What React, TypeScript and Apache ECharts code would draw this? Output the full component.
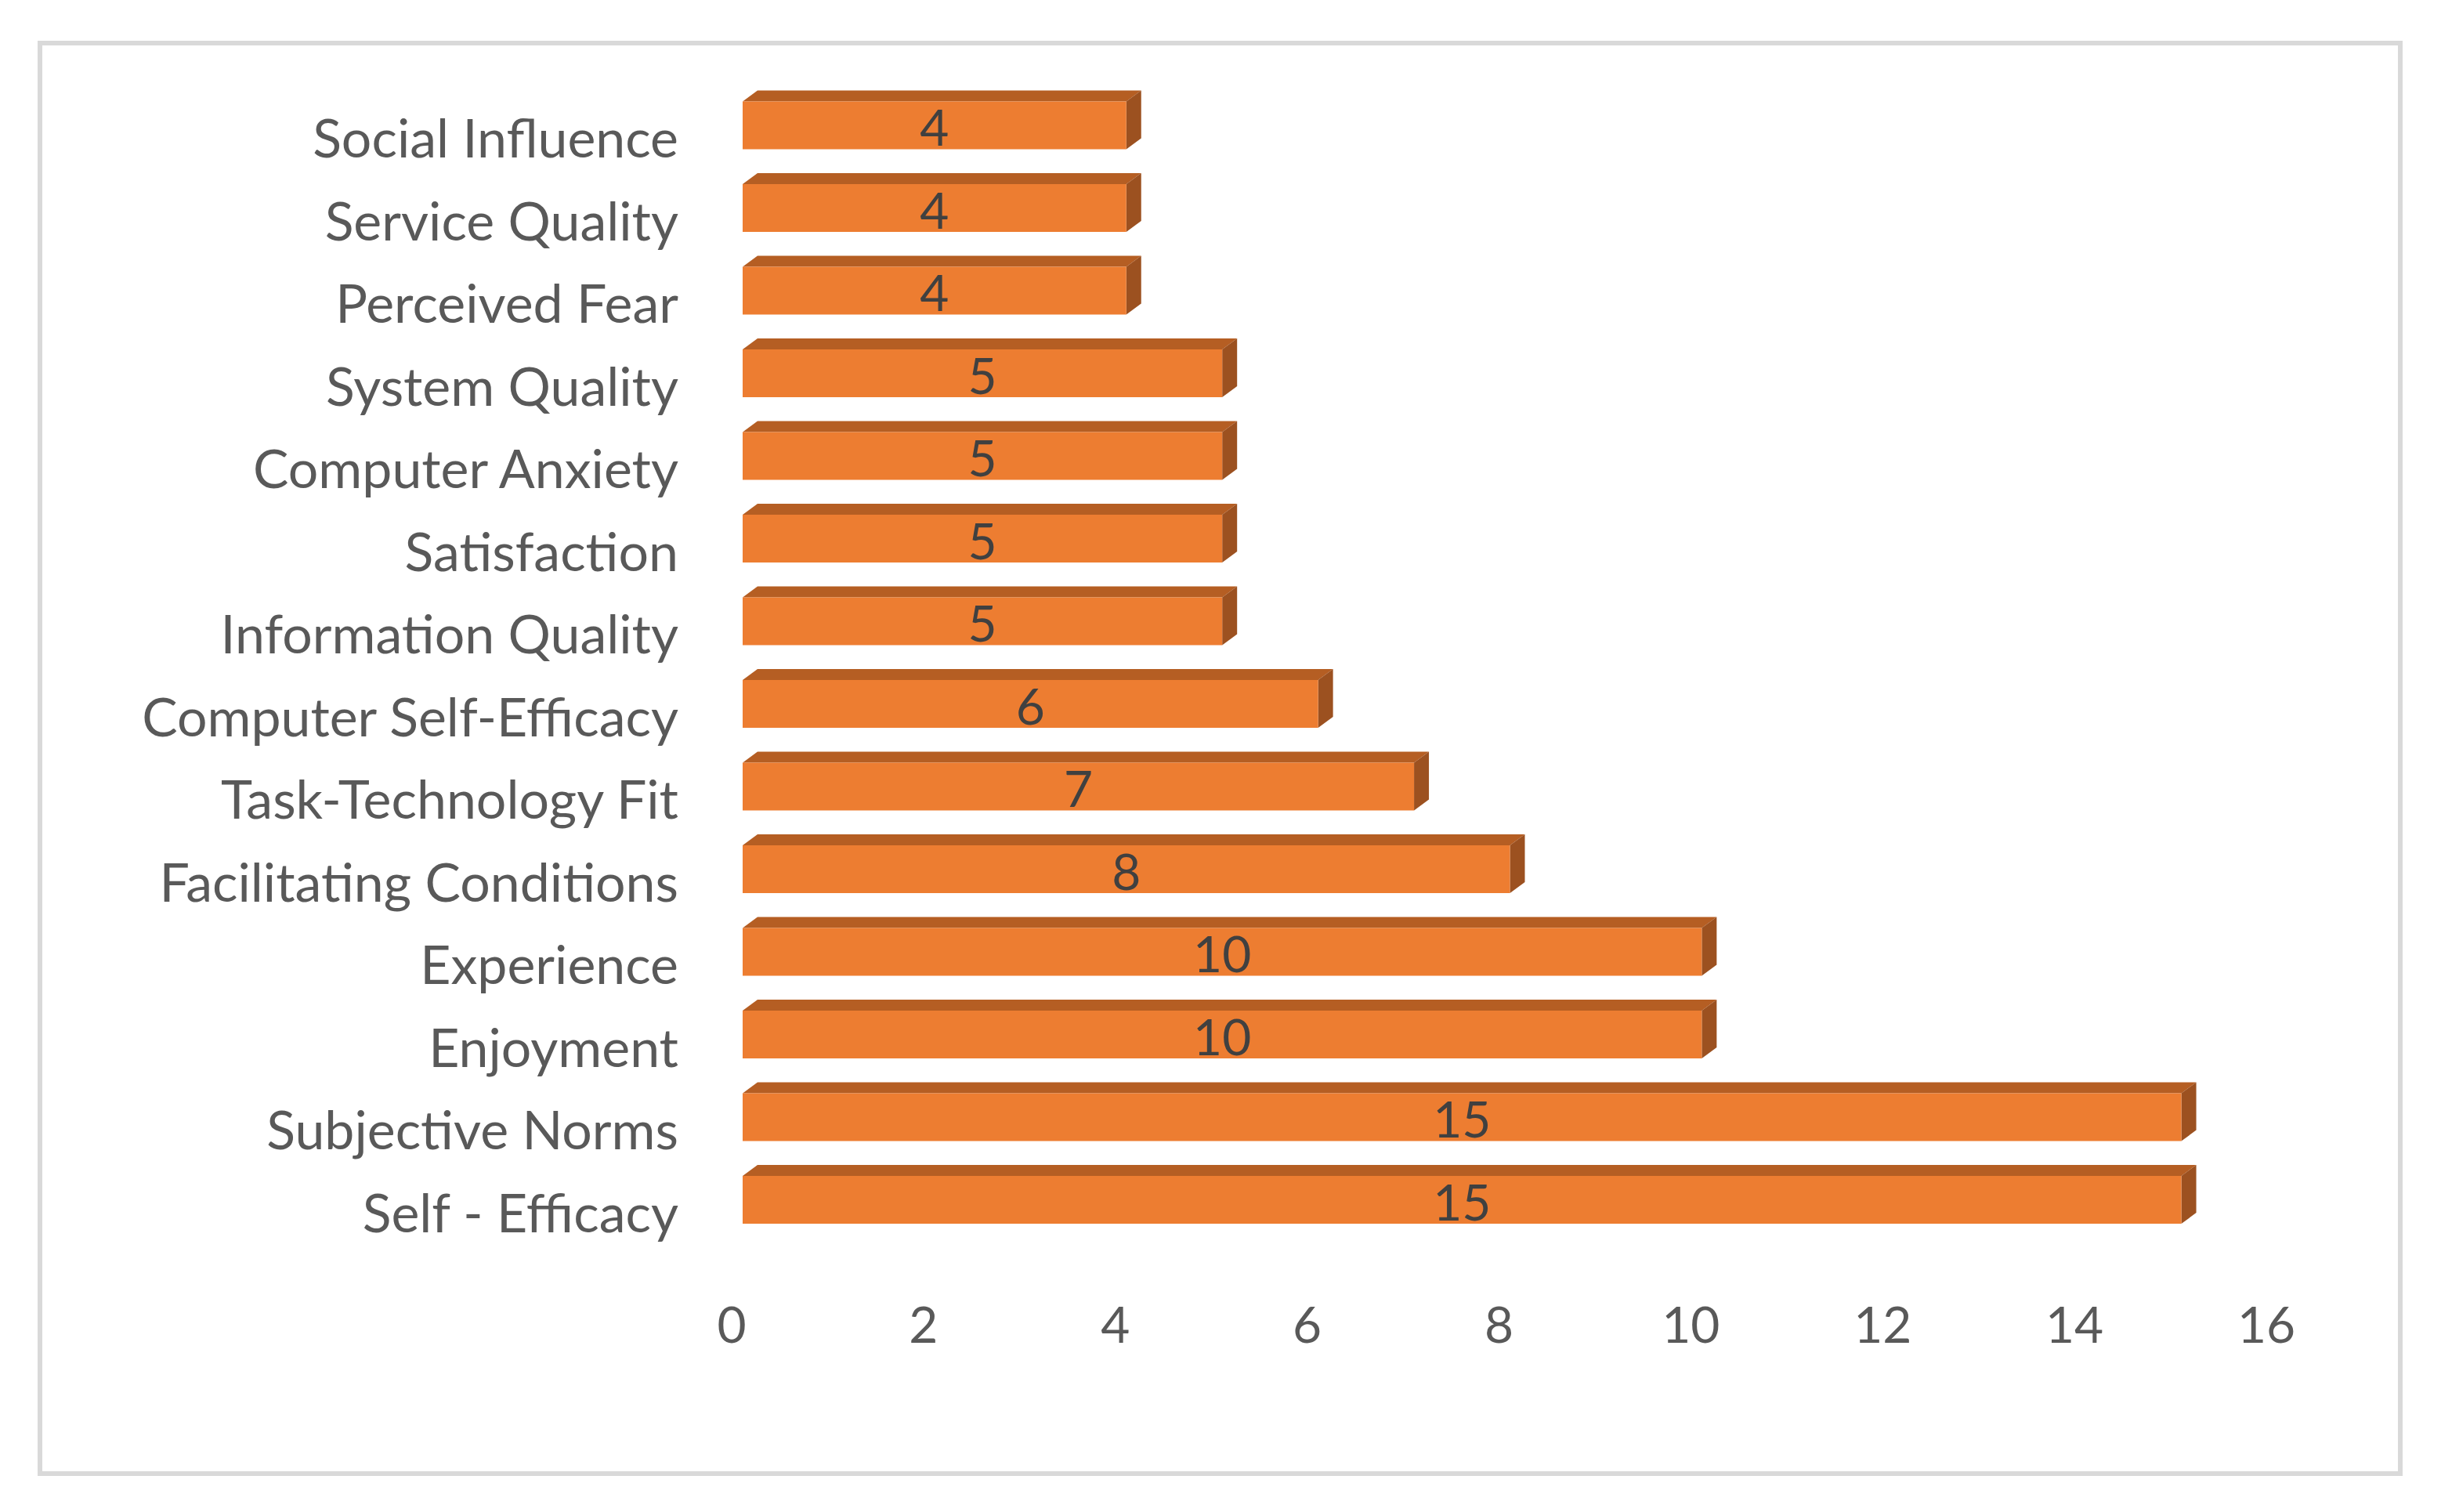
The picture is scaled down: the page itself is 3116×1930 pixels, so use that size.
import React, { useEffect, useRef } from "react";
import * as echarts from "echarts";

const categories = [
  "Social Influence",
  "Service Quality",
  "Perceived Fear",
  "System Quality",
  "Computer Anxiety",
  "Satisfaction",
  "Information Quality",
  "Computer Self-Efficacy",
  "Task-Technology Fit",
  "Facilitating Conditions",
  "Experience",
  "Enjoyment",
  "Subjective Norms",
  "Self - Efficacy",
];
const counts = [4, 4, 4, 5, 5, 5, 5, 6, 7, 8, 10, 10, 15, 15];
const axisMax = 16;
const axisStep = 2;

const FRONT = "#ED7D31";
const TOP = "#B55E23";
const SIDE = "#9C5120";

export default function App() {
  const ref = useRef<HTMLDivElement>(null);
  useEffect(() => {
    if (!ref.current) return;
    const chart = echarts.init(ref.current, null, { renderer: "svg" });
    const data = counts.map((v, i) => [v, i]);
    chart.setOption({
      animation: false,
      backgroundColor: "#ffffff",
      textStyle: { fontFamily: "Lato" },
      grid: { left: 934, right: 223, top: 122, bottom: 331, containLabel: false },
      xAxis: {
        type: "value",
        min: 0,
        max: axisMax,
        interval: axisStep,
        axisLine: { show: false },
        axisTick: { show: false },
        splitLine: { show: false },
        axisLabel: { color: "#595959", fontSize: 64, fontFamily: "Lato", margin: 58 },
      },
      yAxis: {
        type: "category",
        data: categories,
        inverse: true,
        axisLine: { show: false },
        axisTick: { show: false },
        splitLine: { show: false },
        axisLabel: { color: "#595959", fontSize: 68, fontFamily: "Lato", margin: 68 },
      },
      graphic: [
        {
          type: "rect",
          shape: { x: 51, y: 55, width: 3013, height: 1826 },
          style: { fill: "none", stroke: "#D9D9D9", lineWidth: 6 },
          silent: true,
        },
      ],
      series: [
        {
          type: "custom",
          encode: { x: 0, y: 1 },
          data,
          renderItem: (params: any, api: any) => {
            const v = api.value(0);
            const i = api.value(1);
            const p0 = api.coord([0, i]);
            const p1 = api.coord([v, i]);
            const band = api.size([0, 1])[1];
            const h = band * 0.58;
            const yc = p0[1] - band * 0.14;
            const x0 = p0[0] + 14;
            const x1 = p1[0] + 14;
            const yt = yc - h / 2;
            const yb = yc + h / 2;
            const dx = 19;
            const dy = 14;
            return {
              type: "group",
              children: [
                {
                  type: "polygon",
                  shape: { points: [[x0, yt], [x0 + dx, yt - dy], [x1 + dx, yt - dy], [x1, yt]] },
                  style: { fill: TOP },
                },
                {
                  type: "polygon",
                  shape: { points: [[x1, yt], [x1 + dx, yt - dy], [x1 + dx, yb - dy], [x1, yb]] },
                  style: { fill: SIDE },
                },
                {
                  type: "rect",
                  shape: { x: x0, y: yt, width: x1 - x0, height: h },
                  style: { fill: FRONT },
                },
                {
                  type: "text",
                  x: (x0 + x1) / 2,
                  y: yc + 2,
                  style: {
                    text: String(v),
                    fill: "#404040",
                    fontSize: 64,
                    fontFamily: "Lato",
                    align: "center",
                    verticalAlign: "middle",
                  },
                },
              ],
            };
          },
        },
      ],
    });
    return () => chart.dispose();
  }, []);
  return (
    <div
      ref={ref}
      style={{ position: "fixed", left: 0, top: 0, width: 3116, height: 1930 }}
    />
  );
}
